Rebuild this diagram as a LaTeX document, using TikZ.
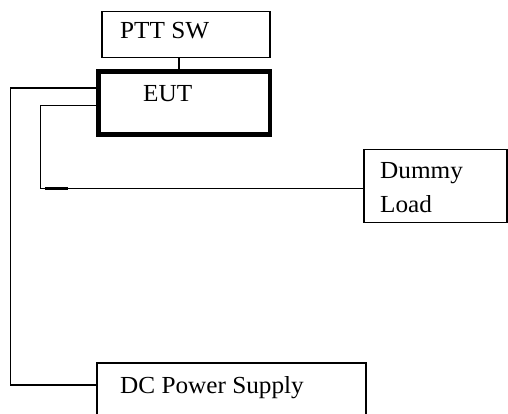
\documentclass[tikz,border=0pt]{standalone}
\usepackage{fontspec}
\setmainfont{Liberation Serif}[FakeStretch=1.03]
\begin{document}
\begin{tikzpicture}[x=1pt,y=-1pt,
  box/.style={draw,line width=1.3pt,rectangle,inner sep=0pt,outer sep=0pt},
  thickbox/.style={draw,line width=4.5pt,rectangle,inner sep=0pt,outer sep=0pt},
  lbl/.style={anchor=base west,inner sep=0pt,font=\fontsize{24.5}{29}\selectfont},
  wire/.style={line width=1.3pt}]
\useasboundingbox (0,0) rectangle (508,413);
\clip (0,0) rectangle (508,413);
\fill[white] (0,0) rectangle (508,413);
% boxes
\node[box,minimum width=168pt,minimum height=46pt] (ptt) at (186,34.7) {};
\node[thickbox,minimum width=171.5pt,minimum height=63pt] (eut) at (184.25,103) {};
\node[box,minimum width=143pt,minimum height=73pt] (dummy) at (435.5,185.7) {};
\node[box,minimum width=269pt,minimum height=80pt] (dc) at (231.5,403) {};
% texts
\node[lbl] (tptt) at (120,38) {PTT SW};
\node[lbl] (teut) at (143,101.5) {EUT};
\node[lbl] (tdum1) at (380,178) {Dummy};
\node[lbl] (tdum2) at (380,212) {Load};
\node[lbl] (tdc) at (120,393) {DC Power Supply};
% coordinates for wire routing
\coordinate (c1) at (179,0);
\coordinate (y1) at (0,88);
\coordinate (x1) at (10.5,0);
\coordinate (y1b) at (0,385);
\coordinate (y2) at (0,105.5);
\coordinate (x2) at (40.5,0);
\coordinate (y2b) at (0,188.5);
% wires
\draw[wire] (ptt.south -| c1) -- (eut.north -| c1);
\draw[wire] (eut.west |- y1) -- (x1 |- y1) -- (x1 |- y1b) -- (dc.west |- y1b);
\draw[wire] (eut.west |- y2) -- (x2 |- y2) -- (x2 |- y2b) -- (dummy.west |- y2b);
\coordinate (s1) at (45,188.5);
\coordinate (s2) at (68,188.5);
\draw[line width=2.2pt] (s1) -- (s2);
\end{tikzpicture}
\end{document}
